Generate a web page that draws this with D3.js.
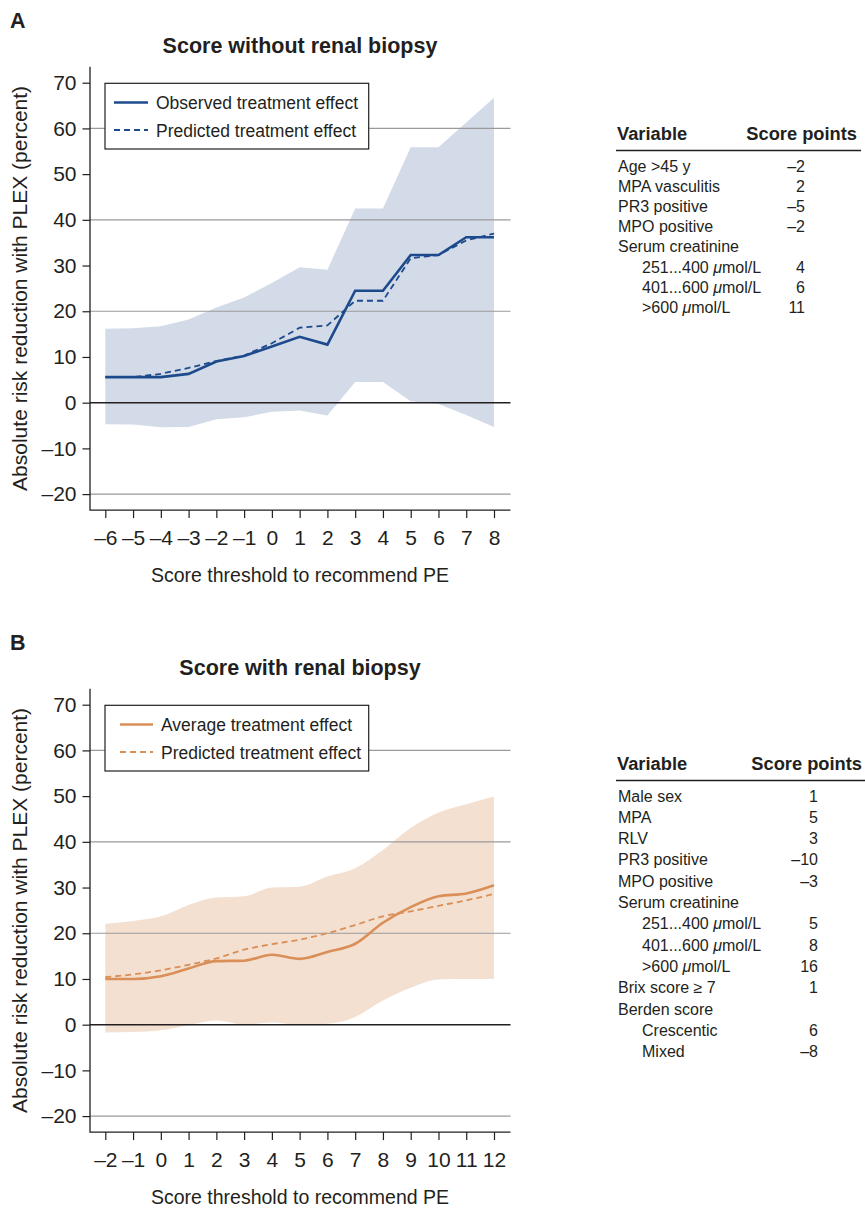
<!DOCTYPE html>
<html>
<head>
<meta charset="utf-8">
<script src="https://cdn.jsdelivr.net/npm/d3@7"></script>
<style>
  body { margin: 0; background: #fff; }
  text { font-family: "Liberation Sans", Arial, Helvetica, sans-serif; fill: #231f20; }
</style>
</head>
<body>
<script>
// ---- panel A: score without renal biopsy ----
const thresholdsA = [-6, -5, -4, -3, -2, -1, 0, 1, 2, 3, 4, 5, 6, 7, 8];
const observedA  = [5.6, 5.6, 5.6, 6.3, 9.0, 10.2, 12.3, 14.4, 12.7, 24.5, 24.5, 32.3, 32.3, 36.2, 36.2];
const predictedA = [5.6, 5.6, 6.3, 7.6, 9.1, 10.3, 13.0, 16.4, 16.9, 22.3, 22.3, 31.6, 32.3, 35.5, 37.0];
const upperA     = [16.2, 16.3, 16.7, 18.2, 20.8, 23.0, 26.2, 29.6, 29.1, 42.5, 42.5, 55.9, 55.9, 61.3, 66.7];
const lowerA     = [-4.7, -4.8, -5.4, -5.3, -3.6, -3.2, -2.0, -1.7, -2.8, 4.5, 4.5, 0.3, -0.3, -2.7, -5.3];

// ---- panel B: score with renal biopsy ----
const thresholdsB = [-2, -1, 0, 1, 2, 3, 4, 5, 6, 7, 8, 9, 10, 11, 12];
const averageB    = [10.0, 10.0, 10.6, 12.3, 13.9, 14.0, 15.3, 14.4, 15.9, 17.7, 22.3, 25.7, 28.1, 28.7, 30.5];
const predictedB  = [10.4, 11.0, 11.9, 13.1, 14.5, 16.4, 17.6, 18.6, 20.0, 21.8, 23.7, 24.8, 26.0, 27.2, 28.6];
const upperB      = [22.1, 22.7, 23.7, 26.2, 27.8, 28.1, 30.0, 30.2, 32.4, 34.2, 38.2, 43.0, 46.4, 48.2, 49.9];
const lowerB      = [-1.7, -1.6, -1.2, -0.1, 0.9, 0.0, 0.5, 0.0, 0.2, 1.7, 5.3, 8.1, 9.9, 10.0, 10.0];

const yTicks = [-20, -10, 0, 10, 20, 30, 40, 50, 60, 70];
const gridValues = [-20, 20, 40, 60];

// ---- score tables ----
const varsA   = ["Age >45 y", "MPA vasculitis", "PR3 positive", "MPO positive", "Serum creatinine",
                 "251...400 μmol/L", "401...600 μmol/L", ">600 μmol/L"];
const pointsA = ["–2", "2", "–5", "–2", "", "4", "6", "11"];
const indentA = [0, 0, 0, 0, 0, 1, 1, 1];

const varsB   = ["Male sex", "MPA", "RLV", "PR3 positive", "MPO positive", "Serum creatinine",
                 "251...400 μmol/L", "401...600 μmol/L", ">600 μmol/L", "Brix score ≥ 7",
                 "Berden score", "Crescentic", "Mixed"];
const pointsB = ["1", "5", "3", "–10", "–3", "", "5", "8", "16", "1", "", "6", "–8"];
const indentB = [0, 0, 0, 0, 0, 0, 1, 1, 1, 0, 0, 1, 1];

const W = 865, H = 1208;
const svg = d3.select("body").append("svg")
    .attr("width", W)
    .attr("height", H);

const fmt = d => d < 0 ? "–" + Math.abs(d) : String(d);

function drawPanel(p) {
  const g = svg.append("g").attr("transform", "translate(0," + p.top + ")");

  const x = d3.scaleLinear()
      .domain(d3.extent(p.thresholds))
      .range([105.3, 494]);
  const y = d3.scaleLinear()
      .domain([-23.5, 73.5])
      .range([510.1, 66.7]);

  const x0 = x.range()[0] - 15.3, x1 = x.range()[1] + 16.5;

  // panel letter + title
  g.append("text").attr("x", 10).attr("y", 27.5)
      .style("font-size", "21.5px").style("font-weight", "bold").text(p.letter);
  g.append("text").attr("x", 300).attr("y", 53)
      .attr("text-anchor", "middle")
      .style("font-size", "21.5px").style("font-weight", "bold").text(p.title);

  // confidence band
  const area = d3.area()
      .x((d, i) => x(p.thresholds[i]))
      .y0((d, i) => y(p.lower[i]))
      .y1(d => y(d))
      .curve(p.curve);
  g.append("path")
      .datum(p.upper)
      .attr("d", area)
      .attr("fill", p.band);

  // grid lines
  g.selectAll(".grid")
      .data(gridValues)
    .enter().append("line")
      .attr("class", "grid")
      .attr("x1", x0).attr("x2", x1)
      .attr("y1", d => y(d)).attr("y2", d => y(d))
      .attr("stroke", "#9a9a9a").attr("stroke-width", 1.1);
  g.append("line")
      .attr("x1", x0).attr("x2", x1)
      .attr("y1", y(0)).attr("y2", y(0))
      .attr("stroke", "#231f20").attr("stroke-width", 1.4);

  // lines
  const line = d3.line()
      .x((d, i) => x(p.thresholds[i]))
      .y(d => y(d))
      .curve(p.curve);
  g.append("path")
      .datum(p.predicted)
      .attr("d", line)
      .attr("fill", "none")
      .attr("stroke", p.color)
      .attr("stroke-width", 1.8)
      .attr("stroke-dasharray", "6,4");
  g.append("path")
      .datum(p.observed)
      .attr("d", line)
      .attr("fill", "none")
      .attr("stroke", p.color)
      .attr("stroke-width", 2.6);

  // axes
  const xAxis = g.append("g")
      .attr("transform", "translate(0," + y.range()[0] + ")")
      .call(d3.axisBottom(x).tickValues(p.thresholds).tickSize(8).tickPadding(12).tickFormat(fmt));
  const yAxis = g.append("g")
      .attr("transform", "translate(" + x0 + ",0)")
      .call(d3.axisLeft(y).tickValues(yTicks).tickSize(7.5).tickPadding(6).tickFormat(fmt));
  [xAxis, yAxis].forEach(a => {
    a.select(".domain").remove();
    a.selectAll(".tick line").attr("stroke", "#231f20").attr("stroke-width", 1.2);
    a.selectAll(".tick text").style("font-size", "21px").attr("fill", "#231f20")
        .style("font-family", "'Liberation Sans', Arial, sans-serif");
  });
  g.append("path")
      .attr("d", "M" + x0 + "," + y.range()[1] + "V" + y.range()[0] + "H" + x1)
      .attr("fill", "none").attr("stroke", "#231f20").attr("stroke-width", 1.3);

  // axis titles
  g.append("text")
      .attr("transform", "translate(26.5," + ((y.range()[0] + y.range()[1]) / 2) + ") rotate(-90)")
      .attr("text-anchor", "middle")
      .style("font-size", "21px")
      .text("Absolute risk reduction with PLEX (percent)");
  g.append("text")
      .attr("x", 300).attr("y", 582)
      .attr("text-anchor", "middle")
      .style("font-size", "19.5px")
      .text("Score threshold to recommend PE");

  // legend
  const lg = g.append("g");
  lg.append("rect")
      .attr("x", 105).attr("y", 83.3).attr("width", 263.7).attr("height", 65.7)
      .attr("fill", "#fff").attr("stroke", "#231f20").attr("stroke-width", 1.2);
  const items = [[p.legend[0], null, 102.5], [p.legend[1], "6,4", 130]];
  items.forEach(([label, dash, ly]) => {
    lg.append("line")
        .attr("x1", p.swatch[0]).attr("x2", p.swatch[1])
        .attr("y1", ly).attr("y2", ly)
        .attr("stroke", p.color)
        .attr("stroke-width", dash ? 1.8 : 2.6)
        .attr("stroke-dasharray", dash);
    lg.append("text")
        .attr("x", p.swatch[1] + 8).attr("y", ly + 6.5)
        .style("font-size", "17.5px")
        .text(label);
  });
}

function drawTable(t) {
  const g = svg.append("g");
  g.append("text").attr("x", 617).attr("y", t.top)
      .style("font-size", "18.3px").style("font-weight", "bold").text("Variable");
  g.append("text").attr("x", t.headEnd).attr("y", t.top)
      .attr("text-anchor", "end")
      .style("font-size", "18.3px").style("font-weight", "bold").text("Score points");
  g.append("line")
      .attr("x1", 616).attr("x2", t.headEnd + 4)
      .attr("y1", t.top + 10.5).attr("y2", t.top + 10.5)
      .attr("stroke", "#231f20").attr("stroke-width", 1.4);

  t.vars.forEach((v, i) => {
    const yy = t.top + 31.5 + i * t.step;
    const txt = g.append("text")
        .attr("x", 618 + t.indent[i] * 24).attr("y", yy)
        .style("font-size", "16px");
    const parts = v.split("μ");
    txt.append("tspan").text(parts[0]);
    if (parts.length > 1) {
      txt.append("tspan").style("font-style", "italic").text("μ");
      txt.append("tspan").text(parts[1]);
    }
    g.append("text")
        .attr("x", t.valEnd).attr("y", yy)
        .attr("text-anchor", "end")
        .style("font-size", "16px")
        .text(t.points[i]);
  });
}

drawPanel({
  top: 0, letter: "A", title: "Score without renal biopsy",
  thresholds: thresholdsA, observed: observedA, predicted: predictedA,
  upper: upperA, lower: lowerA,
  color: "#1d4a8c", band: "#d3dbe8", curve: d3.curveLinear,
  legend: ["Observed treatment effect", "Predicted treatment effect"],
  swatch: [114, 148]
});
drawPanel({
  top: 622, letter: "B", title: "Score with renal biopsy",
  thresholds: thresholdsB, observed: averageB, predicted: predictedB,
  upper: upperB, lower: lowerB,
  color: "#d98f57", band: "#f4e0d1", curve: d3.curveMonotoneX,
  legend: ["Average treatment effect", "Predicted treatment effect"],
  swatch: [120, 153]
});

drawTable({ top: 140, vars: varsA, points: pointsA, indent: indentA, step: 20.2, headEnd: 857, valEnd: 805 });
drawTable({ top: 770, vars: varsB, points: pointsB, indent: indentB, step: 21.3, headEnd: 862, valEnd: 818 });
</script>
</body>
</html>
